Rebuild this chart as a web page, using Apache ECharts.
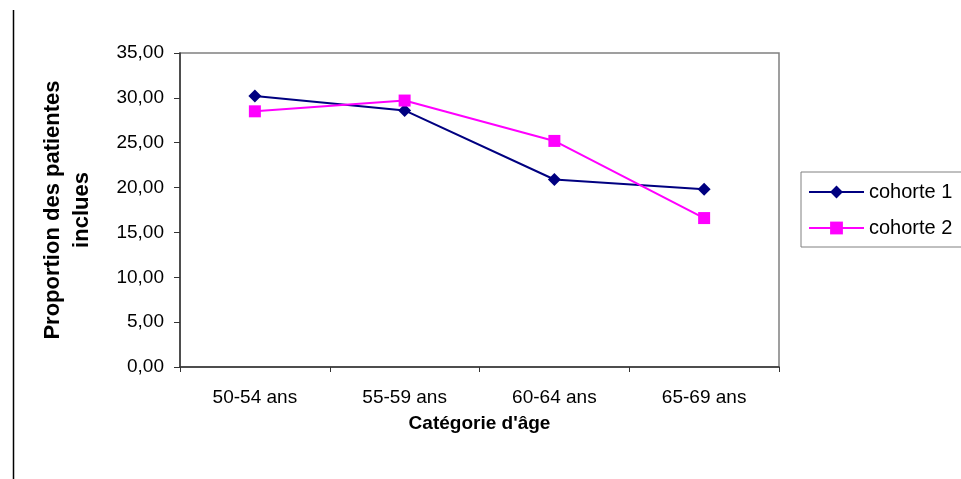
<!DOCTYPE html>
<html>
<head>
<meta charset="utf-8">
<script src="https://cdn.jsdelivr.net/npm/echarts@6/dist/echarts.min.js"></script>
<style>
  html, body { margin: 0; padding: 0; background: #fff; }
  #chart { width: 961px; height: 479px; }
</style>
</head>
<body>
<div id="chart"></div>
<script>
// Age groups and share of included patients (%) per cohort
const categories = ['50-54 ans', '55-59 ans', '60-64 ans', '65-69 ans'];
const cohorte1 = [30.2, 28.6, 20.9, 19.8];
const cohorte2 = [28.5, 29.7, 25.2, 16.6];
const yTicks = { min: 0, max: 35, interval: 5 };

const FONT = '"Liberation Sans", Arial, sans-serif';

const chart = echarts.init(document.getElementById('chart'), null, { renderer: 'canvas' });

chart.setOption({
  backgroundColor: '#ffffff',
  animation: false,
  textStyle: { fontFamily: FONT, color: '#000' },
  grid: {
    left: 180, right: 182, top: 53, bottom: 112,
    show: true, borderColor: '#808080', borderWidth: 1.5,
    backgroundColor: 'transparent'
  },
  legend: {
    orient: 'vertical',
    left: 801, top: 172,
    padding: [10, 10, 9, 7],
    itemWidth: 55, itemHeight: 16, itemGap: 16, itemTextGap: 7,
    borderColor: '#808080', borderWidth: 1,
    textStyle: { fontFamily: FONT, fontSize: 20, color: '#000' },
    data: ['cohorte 1', 'cohorte 2']
  },
  xAxis: {
    type: 'category',
    data: categories,
    boundaryGap: true,
    axisLine: { lineStyle: { color: '#333', width: 1.5 } },
    axisTick: { show: true, length: 5, alignWithLabel: false, lineStyle: { color: '#333' } },
    axisLabel: { fontFamily: FONT, fontSize: 19, color: '#000', margin: 21 },
    name: "Catégorie d'âge",
    nameLocation: 'middle',
    nameGap: 47,
    nameTextStyle: { fontFamily: FONT, fontSize: 19, fontWeight: 'bold', color: '#000' }
  },
  yAxis: {
    type: 'value',
    min: yTicks.min, max: yTicks.max, interval: yTicks.interval,
    axisLine: { show: true, lineStyle: { color: '#333', width: 1.5 } },
    axisTick: { show: true, length: 6, lineStyle: { color: '#333' } },
    splitLine: { show: false },
    axisLabel: {
      fontFamily: FONT, fontSize: 19, color: '#000', margin: 16,
      formatter: v => v.toFixed(2).replace('.', ',')
    },
    name: 'Proportion des patientes\ninclues',
    nameLocation: 'middle',
    nameRotate: 90,
    nameGap: 84,
    nameTextStyle: { fontFamily: FONT, fontSize: 22, fontWeight: 'bold', color: '#000', lineHeight: 29, align: 'center' }
  },
  series: [
    {
      name: 'cohorte 1', type: 'line', data: cohorte1,
      symbol: 'diamond', symbolSize: 13,
      itemStyle: { color: '#000080' },
      lineStyle: { color: '#000080', width: 2 }
    },
    {
      name: 'cohorte 2', type: 'line', data: cohorte2,
      symbol: 'rect', symbolSize: 12,
      itemStyle: { color: '#ff00ff' },
      lineStyle: { color: '#ff00ff', width: 2 }
    }
  ],
  graphic: [
    {
      type: 'line',
      shape: { x1: 13.5, y1: 10, x2: 13.5, y2: 479 },
      style: { stroke: '#000', lineWidth: 1.5 },
      silent: true
    }
  ]
});
</script>
</body>
</html>
